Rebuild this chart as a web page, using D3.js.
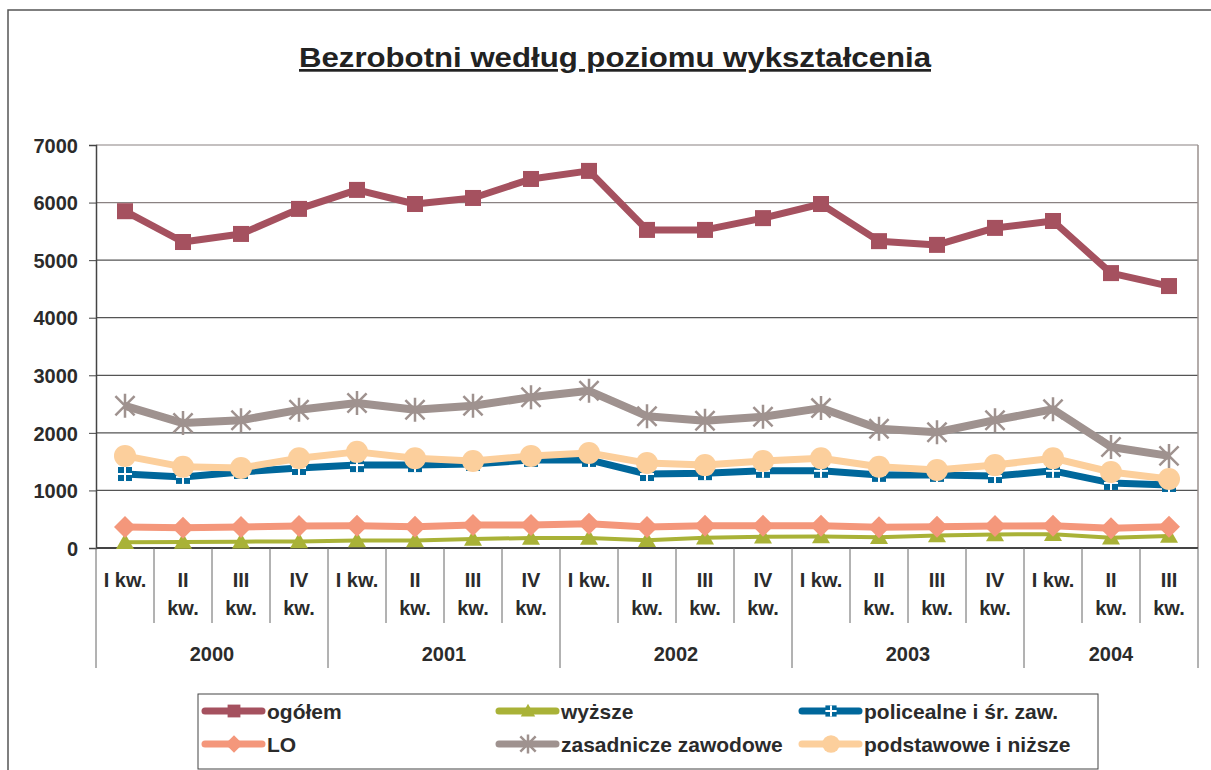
<!DOCTYPE html>
<html>
<head>
<meta charset="utf-8">
<script src="https://cdn.jsdelivr.net/npm/d3@7"></script>
<style>
  body { margin: 0; background: #fff; }
  svg { font-family: "Liberation Sans", Arial, sans-serif; }
  .lbl { font-weight: bold; font-size: 20px; fill: #2b2b2b; }
  .leg { font-weight: bold; font-size: 21px; fill: #2b2b2b; }
</style>
</head>
<body>
<svg id="chart" width="1211" height="770"></svg>
<script>
// quarters and years
var years = ["2000", "2001", "2002", "2003", "2004"];
var quarters = ["I", "II", "III", "IV"];
var yTicks = [0, 1000, 2000, 3000, 4000, 5000, 6000, 7000];

// series values
var ogolem = [5850, 5315, 5455, 5890, 6220, 5975, 6080, 6410, 6550, 5525, 5525, 5730, 5975, 5330, 5265, 5560, 5680, 4775, 4550];
var wyzsze = [100, 105, 110, 115, 130, 130, 155, 175, 175, 135, 180, 195, 200, 185, 215, 235, 240, 180, 210];
var policealne = [1285, 1235, 1320, 1390, 1440, 1440, 1460, 1530, 1530, 1285, 1300, 1340, 1340, 1270, 1270, 1250, 1340, 1130, 1095];
var lo = [365, 350, 365, 380, 385, 370, 400, 400, 420, 365, 385, 385, 385, 360, 370, 380, 385, 345, 370];
var zasadnicze = [2470, 2170, 2220, 2400, 2520, 2400, 2470, 2620, 2730, 2290, 2210, 2280, 2430, 2070, 2010, 2220, 2410, 1755, 1600];
var podstawowe = [1600, 1410, 1390, 1560, 1670, 1560, 1510, 1600, 1650, 1475, 1440, 1510, 1560, 1410, 1355, 1440, 1560, 1320, 1200];

var series = [
  { name: "ogółem", values: ogolem, color: "#a5515f", marker: "square", width: 7 },
  { name: "wyższe", values: wyzsze, color: "#a9b237", marker: "triangle", width: 4 },
  { name: "policealne i śr. zaw.", values: policealne, color: "#00679b", marker: "cross", width: 7 },
  { name: "LO", values: lo, color: "#f4977b", marker: "diamond", width: 7 },
  { name: "zasadnicze zawodowe", values: zasadnicze, color: "#9f928f", marker: "star", width: 8 },
  { name: "podstawowe i niższe", values: podstawowe, color: "#fccf9c", marker: "circle", width: 7 }
];

// 2000 Q1 .. 2004 Q3
var cats = [];
years.forEach(function(yr) {
  quarters.forEach(function(q) {
    if (cats.length < 19) cats.push({ year: yr, q: q });
  });
});

var svg = d3.select("#chart");
var plotLeft = 96, plotRight = 1198, plotTop = 145, plotBottom = 548;

var x = d3.scaleBand().domain(d3.range(cats.length)).range([plotLeft, plotRight]);
var y = d3.scaleLinear().domain([0, 7000]).range([plotBottom, plotTop]);

// outer frame
svg.append("path")
  .attr("d", "M8,770 L8,10 L1211,10")
  .attr("fill", "none")
  .attr("stroke", "#555")
  .attr("stroke-width", 1.5);

// title
svg.append("text")
  .attr("x", 615).attr("y", 67)
  .attr("text-anchor", "middle")
  .attr("font-size", 27).attr("font-weight", "bold")
  .attr("fill", "#222")
  .attr("text-decoration", "underline")
  .attr("textLength", 632).attr("lengthAdjust", "spacingAndGlyphs")
  .text("Bezrobotni według poziomu wykształcenia");

// gridlines
svg.append("g").selectAll("line")
  .data(yTicks.slice(1))
  .enter().append("line")
  .attr("x1", plotLeft).attr("x2", plotRight)
  .attr("y1", function(d) { return y(d); })
  .attr("y2", function(d) { return y(d); })
  .attr("stroke", function(d) { return d >= 6000 ? "#8a8282" : "#555"; })
  .attr("stroke-width", 1.2);

// plot border (right)
svg.append("line")
  .attr("x1", plotRight).attr("x2", plotRight).attr("y1", plotTop).attr("y2", plotBottom)
  .attr("stroke", "#9a908e").attr("stroke-width", 1.5);

// y axis
var yAxis = d3.axisLeft(y).tickValues(yTicks).tickFormat(d3.format("d")).tickSize(7).tickPadding(11);
var gy = svg.append("g").attr("transform", "translate(" + plotLeft + ",0)").call(yAxis);
gy.select(".domain").attr("stroke", "#444").attr("stroke-width", 1.5);
gy.selectAll(".tick line").attr("stroke", "#444");
gy.selectAll(".tick text").attr("class", "lbl").attr("dy", "0.36em");

// x axis: category separators and labels
var xg = svg.append("g");
xg.append("line")
  .attr("x1", plotLeft).attr("x2", plotRight).attr("y1", plotBottom).attr("y2", plotBottom)
  .attr("stroke", "#444").attr("stroke-width", 2);

xg.selectAll(".sep")
  .data(d3.range(cats.length + 1))
  .enter().append("line")
  .attr("x1", function(i) { return i < cats.length ? x(i) : plotRight; })
  .attr("x2", function(i) { return i < cats.length ? x(i) : plotRight; })
  .attr("y1", plotBottom)
  .attr("y2", function(i) { return (i % 4 === 0 || i === cats.length) ? 668 : 623; })
  .attr("stroke", "#666").attr("stroke-width", 1);

cats.forEach(function(c, i) {
  var cx = x(i) + x.bandwidth() / 2;
  if (c.q === "I") {
    xg.append("text").attr("class", "lbl").attr("x", cx).attr("y", 587)
      .attr("text-anchor", "middle").text("I kw.");
  } else {
    xg.append("text").attr("class", "lbl").attr("x", cx).attr("y", 587)
      .attr("text-anchor", "middle").text(c.q);
    xg.append("text").attr("class", "lbl").attr("x", cx).attr("y", 615)
      .attr("text-anchor", "middle").text("kw.");
  }
});

years.forEach(function(yr, k) {
  var i0 = k * 4, i1 = Math.min(k * 4 + 4, cats.length);
  var x0 = x(i0), x1 = i1 < cats.length ? x(i1) : plotRight;
  xg.append("text").attr("class", "lbl")
    .attr("x", (x0 + x1) / 2).attr("y", 661)
    .attr("text-anchor", "middle").text(yr);
});

// markers
function drawMarker(g, s, cx, cy, scale) {
  scale = scale || 1;
  if (s.marker === "square") {
    var h = 8 * scale;
    g.append("rect").attr("x", cx - h).attr("y", cy - h).attr("width", 2 * h).attr("height", 2 * h).attr("fill", s.color);
  } else if (s.marker === "triangle") {
    var t = 9 * scale;
    g.append("path").attr("d", "M" + cx + "," + (cy - t) + " L" + (cx + t) + "," + (cy + t * 0.75) + " L" + (cx - t) + "," + (cy + t * 0.75) + " Z").attr("fill", s.color);
  } else if (s.marker === "cross") {
    var c = 7 * scale;
    g.append("rect").attr("x", cx - c).attr("y", cy - c).attr("width", 2 * c).attr("height", 2 * c).attr("fill", s.color);
    g.append("line").attr("x1", cx - c).attr("x2", cx + c).attr("y1", cy).attr("y2", cy).attr("stroke", "#fff").attr("stroke-width", 2);
    g.append("line").attr("x1", cx).attr("x2", cx).attr("y1", cy - c).attr("y2", cy + c).attr("stroke", "#fff").attr("stroke-width", 2);
  } else if (s.marker === "diamond") {
    var d = 11 * scale;
    g.append("path").attr("d", "M" + cx + "," + (cy - d) + " L" + (cx + d) + "," + cy + " L" + cx + "," + (cy + d) + " L" + (cx - d) + "," + cy + " Z").attr("fill", s.color);
  } else if (s.marker === "star") {
    var r = 12 * scale;
    var a = r * 0.8;
    g.append("path")
      .attr("d", "M" + (cx - a) + "," + (cy - a) + " L" + (cx + a) + "," + (cy + a) +
        " M" + (cx + a) + "," + (cy - a) + " L" + (cx - a) + "," + (cy + a) +
        " M" + cx + "," + (cy - r) + " L" + cx + "," + (cy + r))
      .attr("stroke", s.color).attr("stroke-width", 2.5).attr("fill", "none");
  } else if (s.marker === "circle") {
    g.append("circle").attr("cx", cx).attr("cy", cy).attr("r", 11 * scale).attr("fill", s.color);
  }
}

var line = d3.line()
  .x(function(d, i) { return x(i) + x.bandwidth() / 2; })
  .y(function(d) { return y(d); });

series.forEach(function(s) {
  var g = svg.append("g");
  g.append("path")
    .attr("d", line(s.values))
    .attr("fill", "none")
    .attr("stroke", s.color)
    .attr("stroke-width", s.width)
    .attr("stroke-linejoin", "round");
  s.values.forEach(function(v, i) {
    drawMarker(g, s, x(i) + x.bandwidth() / 2, y(v));
  });
});

// legend
var lg = svg.append("g");
lg.append("rect")
  .attr("x", 198).attr("y", 694).attr("width", 900).attr("height", 75)
  .attr("fill", "#fff").attr("stroke", "#444").attr("stroke-width", 1);

var colX = [205, 499, 802];
var rowY = [711, 744];
series.forEach(function(s, i) {
  var lx = colX[i % 3], ly = rowY[Math.floor(i / 3)];
  var g = lg.append("g");
  g.append("line")
    .attr("x1", lx).attr("x2", lx + 57).attr("y1", ly).attr("y2", ly)
    .attr("stroke", s.color).attr("stroke-width", 7).attr("stroke-linecap", "round");
  drawMarker(g, s, lx + 29, ly, 0.8);
  g.append("text").attr("class", "leg")
    .attr("x", lx + 62).attr("y", ly + 8)
    .text(s.name);
});
</script>
</body>
</html>
